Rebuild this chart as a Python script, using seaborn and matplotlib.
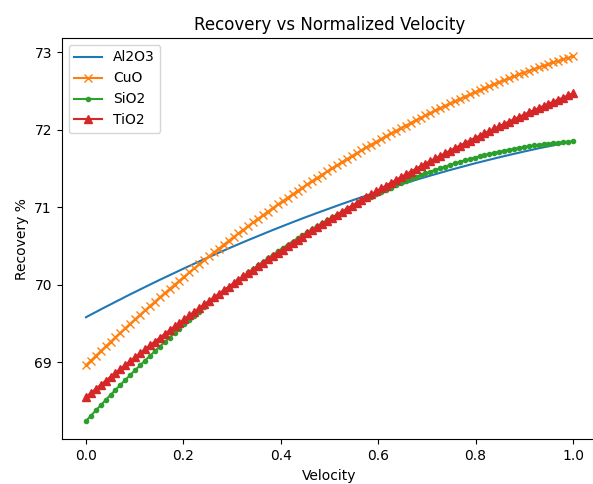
import numpy as np
import pandas as pd
import matplotlib
matplotlib.use("Agg")
import matplotlib.pyplot as plt
import seaborn as sns

# Recovery %, 100 samples across normalized velocity 0..1
al2o3 = [69.580, 69.614, 69.647, 69.681, 69.714, 69.746, 69.779, 69.811, 69.844, 69.876,
         69.907, 69.939, 69.970, 70.001, 70.032, 70.063, 70.093, 70.123, 70.153, 70.183,
         70.213, 70.242, 70.271, 70.300, 70.329, 70.357, 70.385, 70.413, 70.441, 70.469,
         70.496, 70.523, 70.550, 70.577, 70.603, 70.629, 70.655, 70.681, 70.707, 70.732,
         70.757, 70.782, 70.807, 70.831, 70.856, 70.880, 70.903, 70.927, 70.950, 70.973,
         70.996, 71.019, 71.042, 71.064, 71.086, 71.108, 71.129, 71.151, 71.172, 71.193,
         71.214, 71.234, 71.254, 71.275, 71.294, 71.314, 71.333, 71.353, 71.372, 71.390,
         71.409, 71.427, 71.445, 71.463, 71.481, 71.498, 71.515, 71.532, 71.549, 71.566,
         71.582, 71.598, 71.614, 71.629, 71.645, 71.660, 71.675, 71.690, 71.704, 71.719,
         71.733, 71.747, 71.761, 71.774, 71.787, 71.800, 71.813, 71.826, 71.838, 71.850]

cuo = [68.960, 69.021, 69.082, 69.143, 69.203, 69.263, 69.322, 69.381, 69.439, 69.497,
       69.555, 69.612, 69.668, 69.725, 69.780, 69.836, 69.891, 69.945, 69.999, 70.053,
       70.106, 70.159, 70.211, 70.263, 70.315, 70.366, 70.417, 70.467, 70.516, 70.566,
       70.615, 70.663, 70.711, 70.759, 70.806, 70.853, 70.899, 70.945, 70.991, 71.036,
       71.080, 71.124, 71.168, 71.211, 71.254, 71.297, 71.339, 71.381, 71.422, 71.462,
       71.503, 71.542, 71.582, 71.621, 71.660, 71.698, 71.735, 71.773, 71.810, 71.846,
       71.882, 71.918, 71.953, 71.987, 72.022, 72.055, 72.089, 72.122, 72.154, 72.187,
       72.218, 72.250, 72.280, 72.311, 72.341, 72.370, 72.399, 72.428, 72.456, 72.484,
       72.512, 72.538, 72.565, 72.591, 72.617, 72.642, 72.667, 72.691, 72.715, 72.739,
       72.762, 72.784, 72.807, 72.828, 72.850, 72.871, 72.891, 72.911, 72.931, 72.950]

sio2 = [68.240, 68.309, 68.377, 68.444, 68.511, 68.577, 68.642, 68.707, 68.771, 68.834,
        68.897, 68.959, 69.021, 69.081, 69.142, 69.201, 69.260, 69.318, 69.375, 69.432,
        69.488, 69.544, 69.599, 69.653, 69.707, 69.759, 69.812, 69.863, 69.914, 69.964,
        70.014, 70.063, 70.111, 70.159, 70.206, 70.252, 70.298, 70.343, 70.387, 70.431,
        70.474, 70.516, 70.558, 70.599, 70.640, 70.679, 70.718, 70.757, 70.795, 70.832,
        70.868, 70.904, 70.939, 70.974, 71.008, 71.041, 71.073, 71.105, 71.136, 71.167,
        71.197, 71.226, 71.255, 71.282, 71.310, 71.336, 71.362, 71.388, 71.412, 71.436,
        71.460, 71.482, 71.504, 71.526, 71.546, 71.566, 71.586, 71.604, 71.622, 71.640,
        71.657, 71.673, 71.688, 71.703, 71.717, 71.730, 71.743, 71.755, 71.767, 71.778,
        71.788, 71.798, 71.806, 71.815, 71.822, 71.829, 71.835, 71.841, 71.846, 71.850]

tio2 = [68.550, 68.603, 68.656, 68.708, 68.760, 68.812, 68.863, 68.915, 68.966, 69.016,
        69.067, 69.117, 69.167, 69.217, 69.266, 69.315, 69.364, 69.412, 69.461, 69.509,
        69.556, 69.604, 69.651, 69.698, 69.745, 69.791, 69.837, 69.883, 69.928, 69.974,
        70.019, 70.064, 70.108, 70.152, 70.196, 70.240, 70.283, 70.326, 70.369, 70.412,
        70.454, 70.496, 70.538, 70.579, 70.621, 70.662, 70.702, 70.743, 70.783, 70.823,
        70.862, 70.902, 70.941, 70.979, 71.018, 71.056, 71.094, 71.132, 71.169, 71.206,
        71.243, 71.280, 71.316, 71.352, 71.388, 71.424, 71.459, 71.494, 71.529, 71.563,
        71.597, 71.631, 71.665, 71.698, 71.731, 71.764, 71.797, 71.829, 71.861, 71.893,
        71.924, 71.955, 71.986, 72.017, 72.047, 72.077, 72.107, 72.137, 72.166, 72.195,
        72.224, 72.252, 72.280, 72.308, 72.336, 72.363, 72.390, 72.417, 72.444, 72.470]

velocity = np.linspace(0, 1, len(al2o3))

series = [
    ("Al2O3", al2o3, None),
    ("CuO", cuo, "x"),
    ("SiO2", sio2, "."),
    ("TiO2", tio2, "^"),
]
colors = sns.color_palette("tab10", 4)

fig = plt.figure(figsize=(5.93, 4.84), dpi=100)
# reference is cropped on the right, so the axes run slightly past the figure edge
ax = fig.add_axes([0.1039, 0.0924, 0.9035, 0.8291])

for (name, vals, marker), color in zip(series, colors):
    df = pd.DataFrame({"Velocity": velocity, "Recovery": vals})
    kw = {}
    if marker is not None:
        kw = dict(marker=marker, markersize=6, markeredgecolor=color,
                  markeredgewidth=1.0)
    sns.lineplot(data=df, x="Velocity", y="Recovery", color=color, label=name,
                 linewidth=1.5, ax=ax, **kw)

ax.set_title("Recovery vs Normalized Velocity")
ax.set_xlabel("Velocity")
ax.set_ylabel("Recovery %")
ax.set_xticks([0.0, 0.2, 0.4, 0.6, 0.8, 1.0])
ax.set_yticks([69, 70, 71, 72, 73])
ax.spines["right"].set_visible(False)  # cut off in the reference screenshot
ax.legend(loc="upper left")

fig.savefig("out.png", dpi=100)
